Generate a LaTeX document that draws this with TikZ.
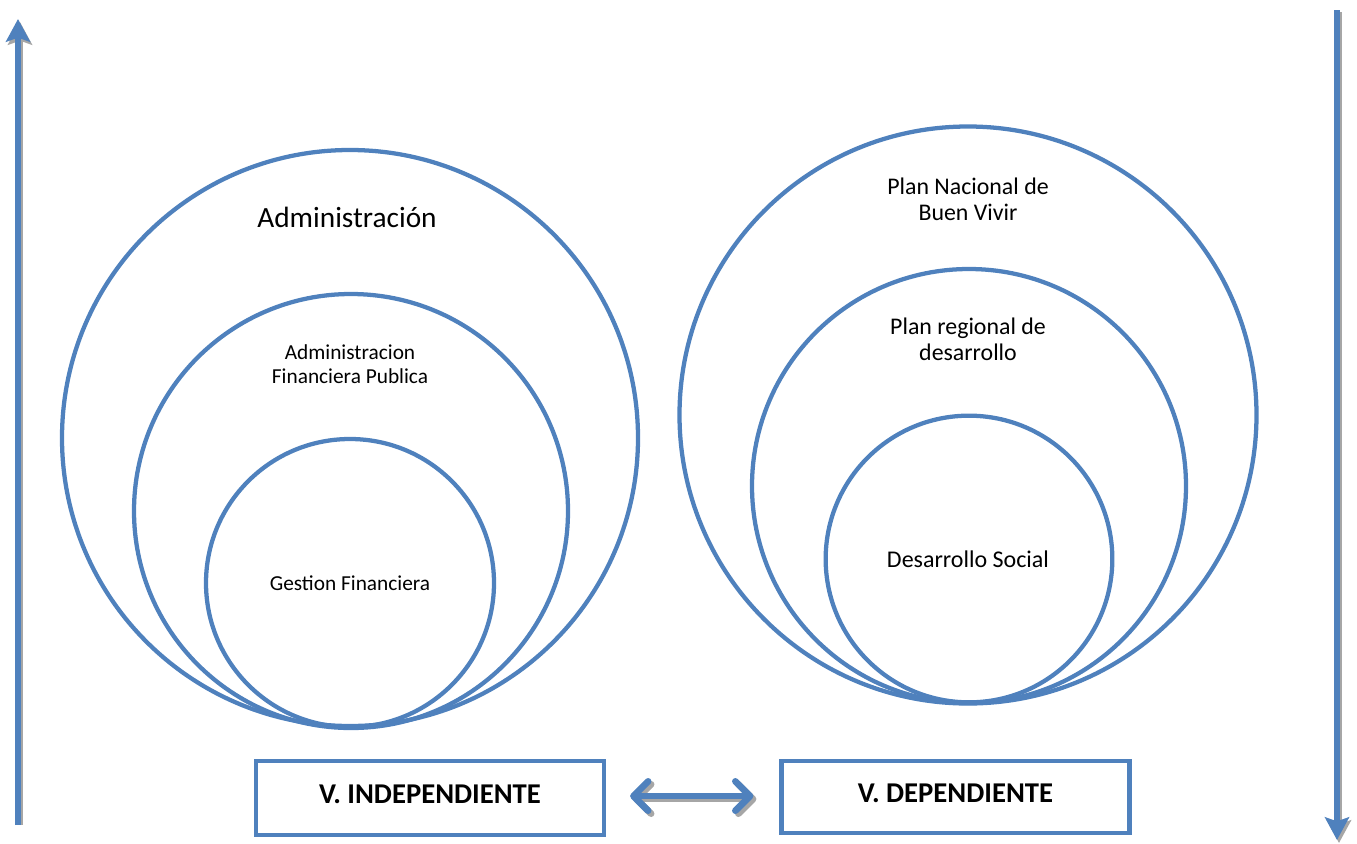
\documentclass[tikz,border=0pt]{standalone}
\usepackage{fontspec}
\setmainfont{Carlito}
\usetikzlibrary{arrows.meta,calc}
\definecolor{ringblue}{HTML}{4F81BD}
\definecolor{shadowgray}{HTML}{A6A6A6}
\newcommand{\liftup}[1]{\raisebox{2.6pt}[\height][\depth]{#1}}
\tikzset{
  ring/.style={circle, draw=ringblue, line width=3.2pt, inner sep=0pt},
  vbox/.style={draw=ringblue, line width=3.2pt, minimum width=261pt, minimum height=55pt, font=\fontsize{21.5}{25}\selectfont\bfseries},
  lbl/.style={align=center, inner sep=0pt},
  axisarrow/.style={draw=ringblue, line width=4.3pt, -{Stealth[length=17pt, width=18pt, inset=3pt]}},
  axisshadow/.style={draw=shadowgray, line width=4.3pt, -{Stealth[length=17pt, width=18pt, inset=3pt]}},
  barb/.style={{Straight Barb[length=11pt, width=22pt, line cap=round, line join=round]}-{Straight Barb[length=11pt, width=22pt, line cap=round, line join=round]}},
}
\begin{document}
\begin{tikzpicture}[x=0.75pt, y=-0.75pt]
\path[use as bounding box] (0,0) rectangle (1357,843);

% left circles
\node[ring, minimum size=432pt] (lo) at (350,438) {};
\node[ring, minimum size=325.5pt] (lm) at (351,511) {};
\node[ring, minimum size=216pt] (li) at (350,583) {};
% right circles
\node[ring, minimum size=432.75pt] (ro) at (968,415) {};
\node[ring, minimum size=325.5pt] (rm) at (969,486) {};
\node[ring, minimum size=215pt] (ri) at (969,559) {};

% labels
\node[lbl, font=\fontsize{22}{26}\selectfont] (tadm) at (347,217) {Administración};
\node[lbl, font=\fontsize{16}{17.5}\selectfont] (tafp) at (350,364) {Administracion\\Financiera Publica};
\node[lbl, font=\fontsize{16}{19}\selectfont] (tgf) at (350,583) {Gestion Financiera};
\node[lbl, font=\fontsize{17.9}{19.8}\selectfont] (tpn) at (968,199) {Plan Nacional de\\Buen Vivir};
\node[lbl, font=\fontsize{17.9}{19.8}\selectfont] (tpr) at (968,339) {Plan regional de\\desarrollo};
\node[lbl, font=\fontsize{18}{21}\selectfont] (tds) at (968,559) {Desarrollo Social};

% boxes
\node[vbox] (vi) at (430,798) {\liftup{V. INDEPENDIENTE}};
\node[vbox, minimum height=54pt] (vd) at (955.5,797) {\liftup{V. DEPENDIENTE}};

% double arrow
\coordinate (da1) at ($(vi.east)+(24,-2)$);
\coordinate (da2) at ($(vd.west)+(-26,-1)$);
\coordinate (da1s) at ($(da1)+(3,3)$);
\coordinate (da2s) at ($(da2)+(3,3)$);
\draw[draw=shadowgray, line width=5pt, barb] (da1s) -- (da2s);
\draw[draw=ringblue, line width=5pt, barb] (da1) -- (da2);

% side arrows
\coordinate (la0) at (18,825);
\coordinate (la1) at (18,19);
\coordinate (la0s) at (20,825);
\coordinate (la1s) at (20,22);
\draw[axisshadow] (la0s) -- (la1s);
\draw[axisarrow] (la0) -- (la1);
\coordinate (ra0) at (1337,10);
\coordinate (ra1) at (1337,840);
\coordinate (ra0s) at (1339,12);
\coordinate (ra1s) at (1339,843);
\draw[axisshadow] (ra0s) -- (ra1s);
\draw[axisarrow] (ra0) -- (ra1);
\end{tikzpicture}
\end{document}
